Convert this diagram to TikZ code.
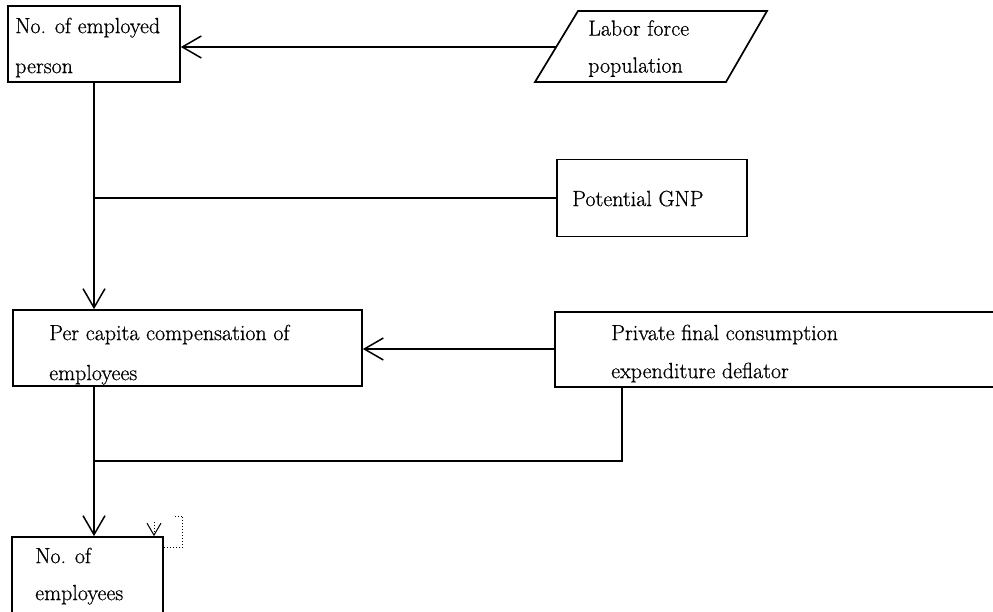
\documentclass[tikz,border=0pt]{standalone}
\usepackage{fontspec}
\setmainfont{Latin Modern Roman}[FakeBold=0.6]
\usetikzlibrary{arrows.meta,calc}
\begin{document}
\begin{tikzpicture}[x=1pt, y=-1pt,
  box/.style={draw, line width=1.7pt, inner sep=0pt},
  lbl/.style={anchor=north west, inner sep=0pt, align=left},
  flow/.style={line width=1.8pt},
  arr/.style={flow, -{Straight Barb[length=19pt, width=22pt, line width=1.5pt]}},
  selfarr/.style={dotted, line width=1pt, -{Straight Barb[length=12pt, width=14pt, line width=1pt]}}
]
\useasboundingbox (0,0) rectangle (993,612);

% boxes
\node[box, minimum width=172pt, minimum height=76pt] (emp)  at (94,44) {};
\node[box, minimum width=190pt, minimum height=77pt] (gnp)  at (652,198) {};
\node[box, minimum width=349pt, minimum height=76pt] (pc)   at (187.5,348) {};
\node[box, minimum width=450pt, minimum height=75pt] (pf)   at (780,349.5) {};
\node[box, minimum width=151pt, minimum height=88pt] (emp2) at (87.5,581) {};

% input parallelogram
\draw[line width=1.7pt] (578,11) -- (767,11) -- (726,82) -- (535,82) -- cycle;
\coordinate (labin) at (556,47);

% texts
\node[lbl, font=\fontsize{22}{40}\selectfont] (empT)  at (15,17.5)   {No. of employed\\person};
\node[lbl, font=\fontsize{22}{37}\selectfont] (labT)  at (588,20)    {Labor force\\population};
\node[lbl, font=\fontsize{22}{37}\selectfont] (gnpT)  at (572,190.5) {Potential GNP};
\node[lbl, font=\fontsize{22}{40}\selectfont] (pcT)   at (49,324.5)  {Per capita compensation of\\employees};
\node[lbl, font=\fontsize{22}{38}\selectfont] (pfT)   at (611,324.5) {Private final consumption\\expenditure deflator};
\node[lbl, font=\fontsize{22}{37}\selectfont] (emp2T) at (35,547.5)  {No. of\\employees};

% connectors
\draw[arr] (labin) -- (labin -| emp.east);
\draw[arr] (emp.south) -- (emp.south |- pc.north);
\draw[flow] (gnp.west) -- (gnp.west -| emp.south);
\draw[arr] ([yshift=0.5pt]pf.west) -- ([yshift=0.5pt]pf.west -| pc.east);
\coordinate (drop) at ([xshift=68pt]pf.south west);
\coordinate (join) at (94,461);
\draw[flow] (drop) |- (join);
\draw[arr] (join |- pc.south) -- (join |- emp2.north);

% self loop on the last box
\coordinate (loopA) at ([yshift=-11pt]emp2.north east);
\coordinate (selfin) at ([xshift=66.5pt]emp2.north);
\draw[dotted, line width=1pt] (loopA) -- ++(19,0) -- ++(0,-31) -- ++(-9,0);
\draw[selfarr] ([yshift=14pt]selfin) -- (selfin);
\end{tikzpicture}
\end{document}
